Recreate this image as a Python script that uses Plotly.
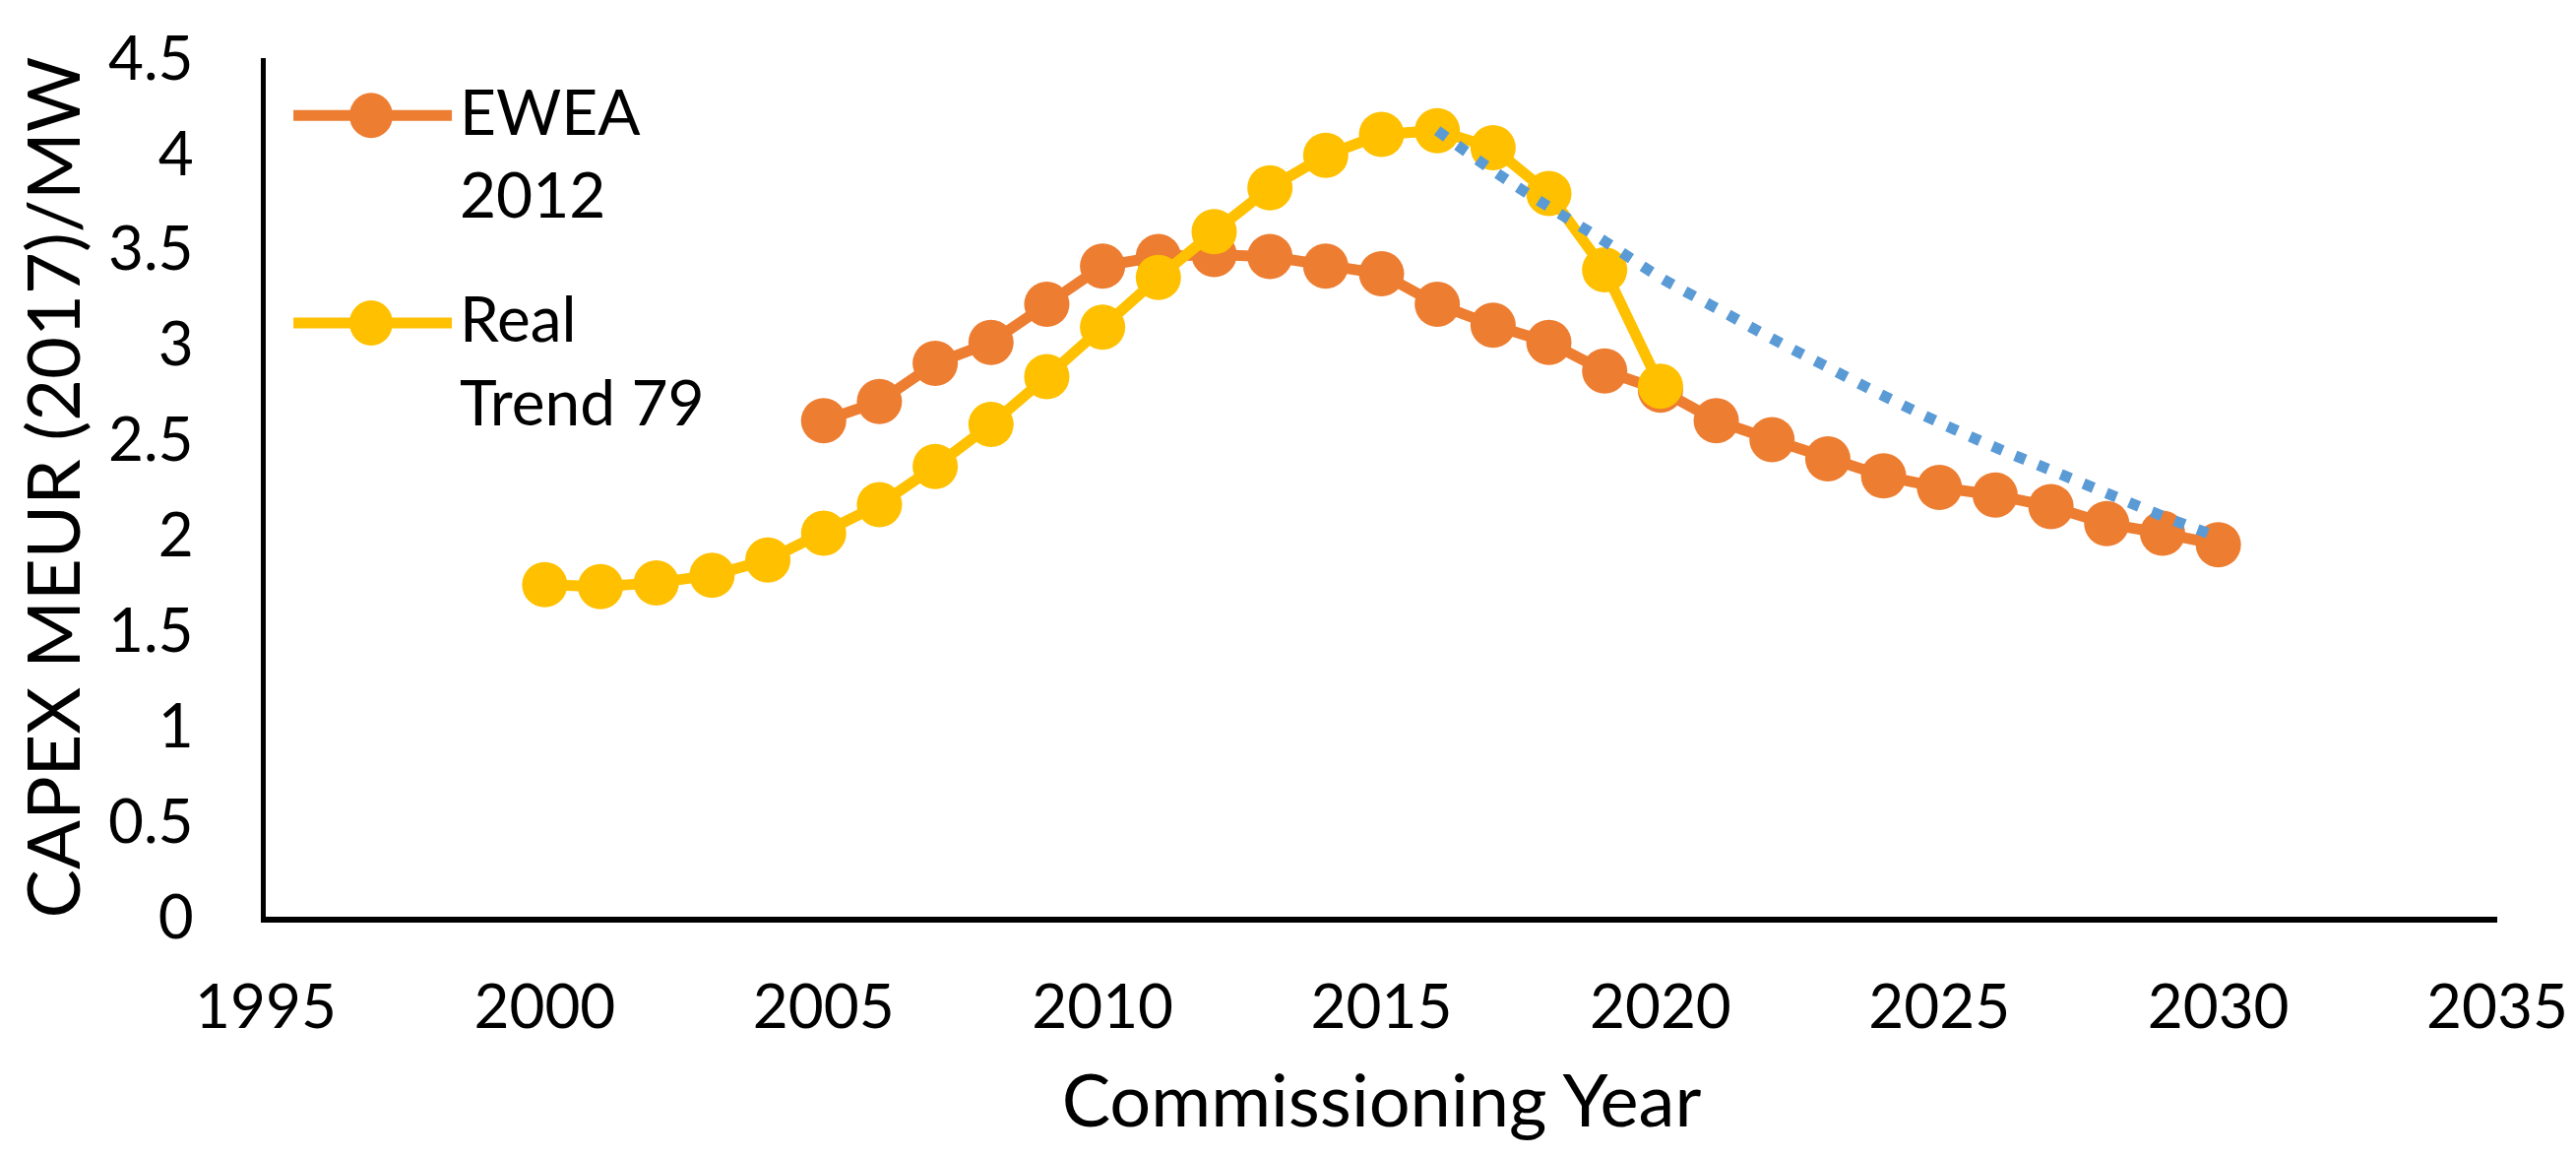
import plotly.graph_objects as go

# ---- data ----
ewea_years = list(range(2005, 2031))
ewea_vals = [2.60, 2.70, 2.90, 3.01, 3.21, 3.41, 3.46, 3.47, 3.46, 3.41, 3.37,
             3.21, 3.10, 3.01, 2.86, 2.76, 2.60, 2.50, 2.40, 2.31, 2.25, 2.21,
             2.15, 2.06, 2.01, 1.95]

real_years = list(range(2000, 2021))
real_vals = [1.74, 1.73, 1.75, 1.79, 1.87, 2.01, 2.16, 2.36, 2.58, 2.83, 3.09,
             3.35, 3.59, 3.82, 3.99, 4.10, 4.12, 4.03, 3.79, 3.39, 2.78]

trend_years = list(range(2016, 2031))
trend_vals = [4.12, 3.91, 3.72, 3.54, 3.35, 3.19, 3.03, 2.88, 2.73, 2.59, 2.46,
              2.34, 2.22, 2.10, 1.99]

x_ticks = [1995, 2000, 2005, 2010, 2015, 2020, 2025, 2030, 2035]
y_ticks = [0, 0.5, 1, 1.5, 2, 2.5, 3, 3.5, 4, 4.5]
y_tick_text = ["0", "0.5", "1", "1.5", "2", "2.5", "3", "3.5", "4", "4.5"]

legend_names = [["EWEA", "2012"], ["Real", "Trend 79"]]

ORANGE = "#ED7D31"
YELLOW = "#FFC000"
BLUE = "#5B9BD5"
FONT = "Lato"

fig = go.Figure()
fig.add_trace(go.Scatter(x=ewea_years, y=ewea_vals, mode="lines+markers",
                         line=dict(color=ORANGE, width=11),
                         marker=dict(color=ORANGE, size=46),
                         name="EWEA 2012", showlegend=False))
fig.add_trace(go.Scatter(x=real_years, y=real_vals, mode="lines+markers",
                         line=dict(color=YELLOW, width=11),
                         marker=dict(color=YELLOW, size=46),
                         name="Real Trend 79", showlegend=False))
fig.add_trace(go.Scatter(x=trend_years, y=trend_vals, mode="lines",
                         line=dict(color=BLUE, width=11, dash="11px,14px", shape="spline"),
                         name="Trend", showlegend=False))

# custom legend (top-left, inside plot)
shapes = []
annotations = []
leg_y = [0.9388, 0.6973]
leg_y2 = [0.8424, 0.6009]
leg_colors = [ORANGE, YELLOW]
for i in range(2):
    shapes.append(dict(type="line", xref="paper", yref="paper",
                       x0=0.0124, x1=0.0834, y0=leg_y[i] - 0.0057, y1=leg_y[i] - 0.0057,
                       line=dict(color=leg_colors[i], width=11)))
    shapes.append(dict(type="circle", xref="paper", yref="paper",
                       xsizemode="pixel", ysizemode="pixel",
                       xanchor=0.0472, yanchor=leg_y[i] - 0.0057,
                       x0=-22, x1=22, y0=-23, y1=23,
                       fillcolor=leg_colors[i], line=dict(width=0)))
    annotations.append(dict(text=legend_names[i][0], xref="paper", yref="paper",
                            x=0.086, y=leg_y[i], xanchor="left", yanchor="middle",
                            showarrow=False, font=dict(family=FONT, size=64, color="black")))
    annotations.append(dict(text=legend_names[i][1], xref="paper", yref="paper",
                            x=0.086, y=leg_y2[i], xanchor="left", yanchor="middle",
                            showarrow=False, font=dict(family=FONT, size=64, color="black")))

fig.update_layout(
    width=2617, height=1174,
    margin=dict(l=262, r=88, t=41, b=251),
    paper_bgcolor="white", plot_bgcolor="white",
    font=dict(family=FONT, size=62, color="black"),
    shapes=shapes, annotations=annotations,
    xaxis=dict(range=[1995, 2035], tickvals=x_ticks, showgrid=False, zeroline=False,
               showline=True, linecolor="black", linewidth=6, ticks="",
               ticklabelstandoff=33, tickfont=dict(size=62),
               title=dict(text="Commissioning Year", font=dict(size=74), standoff=38)),
    yaxis=dict(range=[0, 4.5], tickvals=y_ticks, ticktext=y_tick_text, showgrid=False,
               zeroline=False, showline=True, linecolor="black", linewidth=5, ticks="",
               ticklabelstandoff=56, tickfont=dict(size=62),
               title=dict(text="CAPEX MEUR (2017)/MW", font=dict(size=74), standoff=26)),
)

fig.write_html("out.html")
